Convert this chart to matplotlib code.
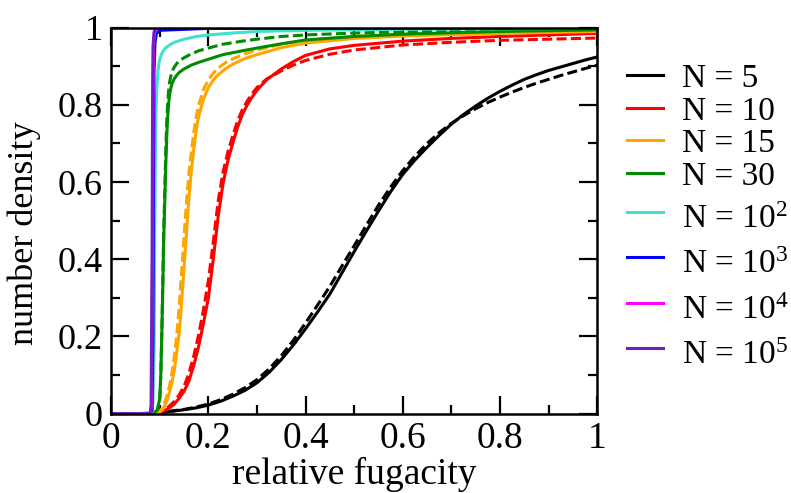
import numpy as np
import matplotlib
matplotlib.use("Agg")
import matplotlib.pyplot as plt
from matplotlib.lines import Line2D

plt.rcParams['font.family'] = ['Liberation Serif', 'DejaVu Serif']
plt.rcParams['mathtext.fontset'] = 'custom'
plt.rcParams['mathtext.rm'] = 'Liberation Serif'
plt.rcParams['mathtext.it'] = 'Liberation Serif:italic'

# N = 5 (solid and dashed)
x5 = [0, 0.05, 0.09, 0.1, 0.125, 0.15, 0.175, 0.2, 0.225, 0.25, 0.275, 0.3, 0.325, 0.35,
      0.375, 0.4, 0.425, 0.45, 0.475, 0.5, 0.525, 0.55, 0.575, 0.6, 0.625, 0.65, 0.675,
      0.7, 0.725, 0.75, 0.775, 0.8, 0.825, 0.85, 0.875, 0.9, 0.925, 0.95, 0.975, 1.0]
y5 = [0, 0, 0.001, 0.003, 0.006, 0.01, 0.015, 0.022, 0.032, 0.045, 0.06, 0.08, 0.107, 0.14,
      0.178, 0.22, 0.264, 0.31, 0.365, 0.42, 0.473, 0.525, 0.575, 0.62, 0.657, 0.69, 0.721,
      0.75, 0.775, 0.797, 0.817, 0.835, 0.851, 0.866, 0.878, 0.889, 0.898, 0.907, 0.916, 0.924]
y5d = [0, 0, 0.001, 0.003, 0.007, 0.011, 0.017, 0.025, 0.036, 0.05, 0.067, 0.088, 0.116, 0.15,
       0.19, 0.235, 0.282, 0.33, 0.383, 0.435, 0.488, 0.54, 0.587, 0.63, 0.667, 0.70, 0.728,
       0.752, 0.772, 0.79, 0.806, 0.82, 0.833, 0.845, 0.856, 0.866, 0.876, 0.885, 0.894, 0.903]

# N = 10
x10 = [0, 0.08, 0.09, 0.1, 0.11, 0.12, 0.13, 0.14, 0.15, 0.16, 0.17, 0.18, 0.19, 0.2, 0.21,
       0.22, 0.23, 0.24, 0.25, 0.26, 0.27, 0.28, 0.29, 0.3, 0.32, 0.35, 0.375, 0.4, 0.45,
       0.5, 0.6, 0.7, 0.8, 0.9, 1.0]
y10 = [0, 0, 0.001, 0.003, 0.008, 0.015, 0.025, 0.04, 0.058, 0.085, 0.125, 0.175, 0.235,
       0.30, 0.40, 0.51, 0.595, 0.655, 0.70, 0.742, 0.775, 0.80, 0.82, 0.838, 0.865, 0.893,
       0.912, 0.928, 0.945, 0.954, 0.965, 0.972, 0.977, 0.981, 0.985]
y10d = [0, 0, 0.001, 0.004, 0.01, 0.02, 0.032, 0.049, 0.071, 0.105, 0.15, 0.205, 0.27,
        0.345, 0.445, 0.55, 0.625, 0.678, 0.72, 0.758, 0.788, 0.81, 0.829, 0.845, 0.867, 0.888,
        0.903, 0.915, 0.931, 0.942, 0.955, 0.962, 0.967, 0.970, 0.973]

# N = 15
x15 = [0, 0.08, 0.09, 0.1, 0.105, 0.11, 0.115, 0.12, 0.125, 0.13, 0.135, 0.14, 0.145, 0.15,
       0.155, 0.16, 0.165, 0.17, 0.175, 0.18, 0.19, 0.2, 0.21, 0.22, 0.235, 0.25, 0.275, 0.3,
       0.35, 0.4, 0.5, 0.6, 0.8, 1.0]
y15 = [0, 0, 0.001, 0.005, 0.01, 0.02, 0.035, 0.055, 0.08, 0.115, 0.16, 0.21, 0.29, 0.38,
       0.47, 0.56, 0.63, 0.685, 0.735, 0.77, 0.815, 0.845, 0.864, 0.878, 0.893, 0.905, 0.92,
       0.93, 0.948, 0.96, 0.972, 0.978, 0.985, 0.99]
y15d = [0, 0, 0.002, 0.007, 0.014, 0.028, 0.048, 0.072, 0.105, 0.15, 0.205, 0.28, 0.37, 0.46,
        0.55, 0.625, 0.68, 0.73, 0.77, 0.80, 0.84, 0.865, 0.882, 0.895, 0.909, 0.919, 0.932,
        0.942, 0.957, 0.967, 0.977, 0.982, 0.987, 0.99]

# N = 30
x30 = [0, 0.08, 0.09, 0.095, 0.1, 0.102, 0.104, 0.106, 0.108, 0.11, 0.112, 0.114, 0.116,
       0.118, 0.12, 0.123, 0.126, 0.13, 0.135, 0.14, 0.15, 0.165, 0.18, 0.2, 0.23, 0.27, 0.3,
       0.35, 0.4, 0.5, 0.6, 0.8, 1.0]
y30 = [0, 0, 0.003, 0.01, 0.04, 0.1, 0.2, 0.32, 0.45, 0.54, 0.63, 0.71, 0.765, 0.80, 0.825,
       0.845, 0.858, 0.868, 0.877, 0.884, 0.893, 0.903, 0.91, 0.918, 0.93, 0.94, 0.947, 0.958,
       0.968, 0.977, 0.983, 0.99, 0.994]
y30d = [0, 0, 0.003, 0.01, 0.04, 0.1, 0.2, 0.33, 0.47, 0.57, 0.67, 0.75, 0.80, 0.835, 0.858,
        0.876, 0.889, 0.898, 0.907, 0.914, 0.922, 0.932, 0.94, 0.947, 0.957, 0.965, 0.97,
        0.977, 0.981, 0.986, 0.989, 0.992, 0.995]

# N = 10^2
x1e2 = [0, 0.08, 0.084, 0.086, 0.088, 0.089, 0.09, 0.091, 0.092, 0.094, 0.096, 0.098, 0.1,
        0.104, 0.11, 0.12, 0.13, 0.15, 0.175, 0.2, 0.25, 0.3, 0.4, 0.6, 1.0]
y1e2 = [0, 0, 0.005, 0.03, 0.15, 0.35, 0.55, 0.7, 0.78, 0.85, 0.885, 0.905, 0.918, 0.933,
        0.945, 0.955, 0.962, 0.97, 0.977, 0.981, 0.986, 0.99, 0.993, 0.996, 0.998]

# N = 10^3, 10^4, 10^5
x1e3 = [0, 0.08, 0.084, 0.086, 0.087, 0.088, 0.09, 0.093, 0.1, 0.2, 1.0]
y1e3 = [0, 0, 0.01, 0.2, 0.6, 0.88, 0.96, 0.985, 0.993, 0.998, 1.0]
x1e4 = [0, 0.08, 0.083, 0.085, 0.086, 0.087, 0.089, 0.092, 0.1, 1.0]
y1e4 = [0, 0, 0.02, 0.4, 0.8, 0.95, 0.985, 0.995, 0.999, 1.0]
x1e5 = [0, 0.08, 0.082, 0.084, 0.085, 0.086, 0.088, 0.091, 0.1, 1.0]
y1e5 = [0, 0, 0.02, 0.4, 0.8, 0.95, 0.988, 0.997, 1.0, 1.0]

labels = ['N = 5', 'N = 10', 'N = 15', 'N = 30', 'N = 10$^{2}$', 'N = 10$^{3}$',
          'N = 10$^{4}$', 'N = 10$^{5}$']
colors = ['black', '#ff0000', '#ffa500', '#008c00', '#40e0d0', '#0000ff', '#ff00ff', '#7221bc']
solid_x = [x5, x10, x15, x30, x1e2, x1e3, x1e4, x1e5]
solid_y = [y5, y10, y15, y30, y1e2, y1e3, y1e4, y1e5]
dashed_y = [y5d, y10d, y15d, y30d]

W, H = 791, 493
fig = plt.figure(figsize=(W / 100, H / 100), dpi=100)
ax = fig.add_axes([0.1406, 0.161, 0.6144, 0.783])

lw = 2.2
for i in range(4):
    ax.plot(solid_x[i], dashed_y[i], color=colors[i], lw=lw, linestyle=(0, (3.3, 1.4)))
for i in range(8):
    ax.plot(solid_x[i], solid_y[i], color=colors[i], lw=lw)

ax.set_xlim(0, 1)
ax.set_ylim(0, 1)
ticks = [0, 0.2, 0.4, 0.6, 0.8, 1.0]
ticklabels = ['0', '0.2', '0.4', '0.6', '0.8', '1']
ax.set_xticks(ticks)
ax.set_xticklabels(ticklabels)
ax.set_yticks(ticks)
ax.set_yticklabels(ticklabels)
ax.set_xticks(np.arange(0.1, 1.0, 0.2), minor=True)
ax.set_yticks(np.arange(0.1, 1.0, 0.2), minor=True)
ax.tick_params(which='both', direction='in', top=True, right=True, width=1.6)
ax.tick_params(axis='x', which='major', length=13, labelsize=27, pad=6)
ax.tick_params(axis='y', which='major', length=13, labelsize=26, pad=6)
ax.tick_params(which='minor', length=6.5)
for s in ax.spines.values():
    s.set_linewidth(1.8)

ax.set_xlabel('relative fugacity', fontsize=27, labelpad=0)
ax.set_ylabel('number density', fontsize=26)
ax.yaxis.set_label_coords(-0.145, 0.468)

# legend drawn by hand so that the rows keep the reference spacing
row_px = [75, 108, 140, 173, 212, 257, 303, 348]
for i in range(8):
    yl = 1 - row_px[i] / H
    fig.add_artist(Line2D([627 / W, 663 / W], [yl, yl], color=colors[i], lw=lw))
    drop = 12 if i < 4 else 16
    fig.text(682 / W, 1 - (row_px[i] + drop) / H, labels[i], fontsize=24, va='baseline')

fig.savefig('out.png', dpi=100)
